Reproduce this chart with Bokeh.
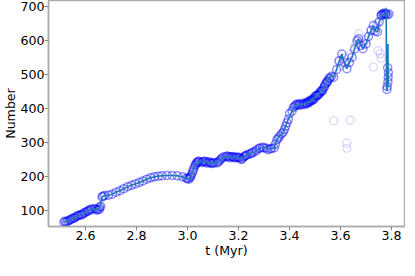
from bokeh.plotting import figure
from bokeh.models import FixedTicker, Range1d, PrintfTickFormatter
from bokeh.embed import file_html
from bokeh.resources import INLINE

# smoothed curve (t in Myr, number)
line_t = [2.515, 2.53, 2.545, 2.56, 2.575, 2.59, 2.60, 2.615, 2.625, 2.64, 2.65, 2.655,
          2.665, 2.675, 2.69, 2.705, 2.72, 2.735, 2.75, 2.765, 2.78, 2.795, 2.81, 2.825,
          2.84, 2.855, 2.87, 2.885, 2.90, 2.92, 2.94, 2.96, 2.98, 2.995, 3.005, 3.015,
          3.025, 3.035, 3.045, 3.06, 3.08, 3.10, 3.115, 3.125, 3.135, 3.15, 3.17, 3.19,
          3.205, 3.215, 3.225, 3.235, 3.25, 3.265, 3.28, 3.295, 3.31, 3.325, 3.34, 3.35,
          3.36, 3.375, 3.385, 3.395, 3.41, 3.42, 3.435, 3.45, 3.465, 3.475, 3.485, 3.495,
          3.505, 3.515, 3.525, 3.535, 3.545, 3.555, 3.565, 3.573, 3.585, 3.595, 3.605,
          3.615, 3.625, 3.635, 3.645, 3.655, 3.665, 3.671, 3.68, 3.688, 3.70, 3.71, 3.72,
          3.729, 3.737, 3.745, 3.752, 3.76, 3.77, 3.777]
line_n = [66, 69, 75, 80, 86, 90, 95, 101, 104, 104, 103, 110,
          140, 144, 145, 148, 154, 158, 164, 170, 174, 178, 182, 187,
          192, 196, 199, 201, 202, 203, 203, 202, 199, 195, 192, 205,
          225, 240, 244, 243, 242, 240, 240, 246, 254, 258, 258, 256,
          255, 252, 260, 265, 268, 273, 282, 286, 283, 281, 284, 308,
          318, 330, 348, 368, 392, 407, 411, 412, 415, 420, 422, 430,
          437, 442, 450, 462, 475, 488, 495, 492, 515, 540, 560,
          535, 517, 535, 551, 575, 600, 605, 585, 576, 590, 612, 630,
          644, 628, 625, 655, 673, 676, 678]

# final spike of the curve
tail_t = [3.779, 3.781, 3.784, 3.786, 3.787]
tail_n = [696, 452, 460, 590, 470]

# raw samples lying in the dense band
band_t = [2.52, 2.525, 2.537, 2.54, 2.552, 2.555, 2.567, 2.57, 2.582, 2.585, 2.595,
          2.607, 2.61, 2.62, 2.635, 2.645, 2.655, 2.660, 2.668,
          3.000, 3.01, 3.012, 3.02, 3.022, 3.03, 3.032, 3.04, 3.042, 3.055, 3.065,
          3.07, 3.075, 3.085, 3.09, 3.095, 3.105, 3.12, 3.13, 3.14, 3.155, 3.16,
          3.165, 3.175, 3.18, 3.185, 3.195, 3.20, 3.21, 3.22, 3.23, 3.245, 3.255,
          3.27, 3.285, 3.30, 3.315, 3.33,
          3.345, 3.356, 3.368, 3.38, 3.39, 3.40, 3.415, 3.425, 3.43, 3.44, 3.44,
          3.455, 3.457, 3.468, 3.47, 3.478, 3.48, 3.488, 3.49, 3.498, 3.50, 3.508,
          3.51, 3.518, 3.52, 3.528, 3.53, 3.538, 3.54, 3.548, 3.55, 3.558,
          3.760, 3.766, 3.772, 3.778, 3.784, 3.790,
          3.782, 3.783, 3.786, 3.787, 3.788, 3.785]
band_n = [68, 66, 71, 73, 78, 77, 83, 85, 88, 87, 93,
          97, 99, 104, 106, 101, 104, 112, 142,
          194, 196, 200, 212, 218, 232, 236, 242, 245, 241, 245,
          244, 239, 243, 240, 238, 241, 242, 250, 257, 260, 259,
          255, 259, 257, 255, 257, 256, 250, 257, 262, 266, 271,
          278, 284, 284, 279, 283,
          295, 312, 325, 338, 358, 385, 403, 410, 413, 414, 409,
          416, 411, 418, 414, 418, 424, 426, 424, 428, 436, 440,
          438, 444, 449, 455, 452, 466, 472, 481, 478, 490,
          676, 679, 680, 678, 676, 678,
          456, 465, 478, 492, 505, 520]

# scattered raw samples away from the band
sparse_t = [3.573, 3.638, 3.625, 3.625, 3.671, 3.747, 3.756, 3.760, 3.729,
            3.592, 3.612, 3.600, 3.640, 3.660, 3.690, 3.700, 3.720, 3.740, 3.745]
sparse_n = [364, 366, 298, 283, 620, 570, 561, 548, 522,
            540, 548, 525, 560, 588, 592, 602, 628, 642, 652]

x_ticks = [2.6, 2.8, 3.0, 3.2, 3.4, 3.6, 3.8]
y_ticks = [100, 200, 300, 400, 500, 600, 700]
x_label = "t (Myr)"
y_label = "Number"

FONT = "DejaVu Sans"
SPINE = "#ababab"

p = figure(frame_width=356, frame_height=226,
           x_range=Range1d(2.4549, 3.851), y_range=Range1d(52.9, 717.6),
           output_backend="svg", toolbar_location=None,
           min_border_left=30, min_border_right=1, min_border_top=0, min_border_bottom=30,
           background_fill_color="white", border_fill_color="white")

p.scatter(sparse_t, sparse_n, marker="circle", size=8,
          fill_color=None, line_color="blue", line_alpha=0.18, line_width=1.2)
p.scatter(line_t + band_t, line_n + band_n, marker="circle", size=8,
          fill_color=None, line_color="blue", line_alpha=0.45, line_width=1.5)
p.line(line_t + tail_t, line_n + tail_n, line_color="#1f77b4", line_width=1.6)

p.grid.visible = False
p.outline_line_color = SPINE
p.outline_line_width = 1.5

for ax, ticks, lab in ((p.xaxis[0], x_ticks, x_label), (p.yaxis[0], y_ticks, y_label)):
    ax.ticker = FixedTicker(ticks=ticks)
    ax.axis_label = lab
    ax.axis_label_text_font = FONT
    ax.axis_label_text_font_size = "12.6px"
    ax.axis_label_text_font_style = "normal"
    ax.axis_label_text_color = "black"
    ax.major_label_text_font = FONT
    ax.major_label_text_font_size = "12.6px"
    ax.major_label_text_color = "black"
    ax.axis_line_color = SPINE
    ax.axis_line_width = 1.5
    ax.major_tick_line_color = "#888888"
    ax.major_tick_out = 4
    ax.major_tick_in = 0
    ax.minor_tick_line_color = None

p.xaxis[0].formatter = PrintfTickFormatter(format="%.1f")
p.xaxis.major_label_standoff = 0
p.xaxis.axis_label_standoff = 0
p.yaxis.major_label_standoff = 0
p.yaxis.axis_label_standoff = -1

open("out.html", "w").write(file_html(p, INLINE))
